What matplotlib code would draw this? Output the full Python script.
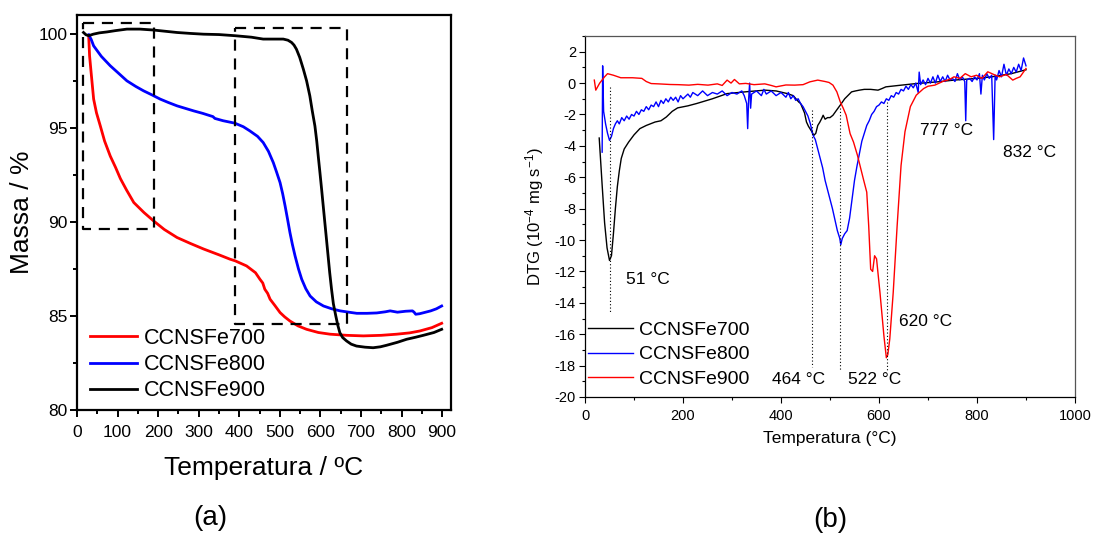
import matplotlib
matplotlib.use("Agg")
import matplotlib.pyplot as plt
from matplotlib.ticker import MultipleLocator

plt.rcParams['font.family'] = ['Liberation Sans', 'DejaVu Sans']
plt.rcParams['mathtext.fontset'] = 'custom'
plt.rcParams['mathtext.rm'] = 'Liberation Sans'
plt.rcParams['mathtext.it'] = 'Liberation Sans:italic'

# ---------------- Panel (a): TGA ----------------
labels_tga = ["CCNSFe700", "CCNSFe800", "CCNSFe900"]
colors_tga = ["#ff0000", "#0000ff", "#000000"]

t700 = [28.8, 31, 35, 41, 48, 57.5, 68, 82, 95, 107, 122, 140, 165, 189, 215, 246.6, 280, 312, 350, 377,
        390, 418, 440, 451, 458, 463, 470, 476, 488, 500.6, 512, 525, 545, 566, 595, 624, 665, 706, 750,
        788, 820, 845, 875, 899]
m700 = [99.9, 98.83, 97.9, 96.53, 95.8, 95.1, 94.3, 93.5, 92.9, 92.3, 91.7, 91.03, 90.5, 90.05, 89.6,
        89.17, 88.85, 88.56, 88.25, 88.02, 87.93, 87.66, 87.3, 86.95, 86.75, 86.42, 86.2, 85.89, 85.55,
        85.18, 84.95, 84.73, 84.47, 84.29, 84.12, 84.03, 83.97, 83.94, 83.97, 84.03, 84.1, 84.2, 84.38,
        84.61]

t800 = [28.8, 35, 41, 60, 82, 100, 123, 145, 164, 185, 205, 225, 246.6, 268, 288, 310, 329, 335, 340,
        360, 389, 410, 426, 445, 459, 472, 484, 492, 500.6, 507, 513, 519, 525, 531, 537.6, 546, 554,
        564, 574.7, 590, 607.6, 628, 648.7, 670, 689.8, 715, 739, 760, 772, 790, 810, 827, 831, 835,
        845, 872, 886, 899]
m800 = [99.95, 99.7, 99.36, 98.8, 98.3, 97.95, 97.5, 97.2, 96.97, 96.75, 96.53, 96.35, 96.17, 96.03,
        95.9, 95.77, 95.64, 95.6, 95.5, 95.38, 95.25, 95.06, 94.84, 94.55, 94.22, 93.75, 93.15, 92.65,
        92.09, 91.5, 90.85, 90.15, 89.43, 88.8, 88.19, 87.5, 86.95, 86.45, 86.06, 85.75, 85.53, 85.38,
        85.27, 85.2, 85.14, 85.14, 85.16, 85.22, 85.27, 85.2, 85.25, 85.27, 85.2, 85.09, 85.12, 85.27,
        85.38, 85.53]

t900 = [16, 22, 28.8, 40, 55, 74, 95, 123, 155, 189, 220, 246.6, 280, 312, 350, 389, 430, 459, 490,
        508.5, 520, 529, 535, 541, 549, 558, 566, 574, 580, 586.5, 591, 594.7, 599, 603, 607, 611, 615,
        619, 623, 627.5, 632, 638, 643, 648, 655, 664.6, 676, 689, 710, 730, 748, 763, 790, 812.6, 835,
        853.7, 880, 899]
m900 = [100.07, 99.95, 99.9, 99.98, 100.05, 100.1, 100.17, 100.25, 100.25, 100.2, 100.13, 100.07, 100.02,
        99.98, 99.96, 99.9, 99.82, 99.72, 99.72, 99.72, 99.66, 99.54, 99.4, 99.18, 98.75, 98.12, 97.5,
        96.7, 95.9, 95.1, 94.3, 93.5, 92.6, 91.74, 90.85, 89.96, 89.08, 88.19, 87.3, 86.42, 85.65, 85.0,
        84.5, 84.11, 83.85, 83.67, 83.5, 83.4, 83.34, 83.31, 83.36, 83.44, 83.6, 83.76, 83.87, 83.97,
        84.12, 84.29]

# dashed highlight boxes (x0, x1, y0, y1)
box1 = [15, 190, 89.6, 100.6]
box2 = [390, 665, 84.56, 100.3]

# ---------------- Panel (b): DTG ----------------
labels_dtg = ["CCNSFe700", "CCNSFe800", "CCNSFe900"]
colors_dtg = ["#000000", "#0000ff", "#ff0000"]

d700_t = [29, 35, 40, 45, 50, 54, 58, 62, 66, 70, 74, 80, 89, 100, 112, 125, 143, 155, 166, 178, 189,
          210, 228, 260, 290, 330, 367, 390, 413, 425, 436, 440, 444, 448, 452, 456, 459, 463, 467, 471,
          475, 479, 483, 486, 490, 495, 500, 506, 514, 521, 530, 544, 552, 560, 570, 583, 598, 606, 614,
          640, 676, 720, 753, 800, 830, 870, 900]
d700_v = [-3.5, -6.5, -8.9, -10.5, -11.3, -11.0, -9.6, -8.0, -6.6, -5.6, -4.8, -4.2, -3.76, -3.3, -2.9,
          -2.7, -2.48, -2.4, -2.16, -1.8, -1.58, -1.45, -1.3, -1.0, -0.67, -0.55, -0.45, -0.5, -0.67,
          -0.8, -1.2, -1.3, -1.6, -1.9, -2.48, -2.75, -2.9, -3.1, -3.33, -3.2, -2.7, -2.5, -2.26, -2.05,
          -2.3, -2.2, -2.2, -2.05, -1.7, -1.4, -1.0, -0.56, -0.5, -0.45, -0.4, -0.4, -0.45, -0.35, -0.24,
          -0.15, -0.03, 0.08, 0.19, 0.3, 0.4, 0.6, 0.85]

d800_t = [35, 36, 38, 42, 46, 50, 54, 58, 62, 66, 70, 75, 80, 85, 90, 95, 100, 105, 110, 115, 120, 125,
          130, 135, 140, 145, 150, 155, 160, 165, 170, 175, 180, 185, 190, 195, 200, 210, 215, 220, 230,
          240, 250, 260, 270, 280, 290, 300, 310, 320, 325, 330, 332, 334, 336, 338, 340, 350, 360, 365,
          370, 380, 390, 400, 410, 415, 420, 425, 430, 435, 440, 445, 450, 455, 460, 465, 470, 475, 480,
          485, 490, 495, 500, 505, 510, 515, 520, 522, 525, 530, 535, 540, 545, 550, 555, 560, 565, 570,
          575, 580, 585, 590, 595, 600, 605, 610, 615, 620, 625, 630, 635, 640, 645, 650, 655, 660, 665,
          670, 675, 680, 682, 685, 690, 695, 700, 705, 710, 715, 720, 725, 730, 735, 740, 745, 750, 755,
          760, 765, 770, 775, 777, 779, 785, 790, 795, 800, 805, 808, 811, 815, 820, 825, 830, 834, 837,
          840, 845, 850, 855, 860, 865, 870, 875, 880, 885, 890, 895, 900]
d800_v = [-4.4, 1.1, -1.8, -2.6, -3.2, -3.65, -3.4, -2.9, -2.6, -2.4, -2.6, -2.2, -2.4, -2.1, -2.3, -2.0,
          -2.1, -1.8, -2.0, -1.7, -1.8, -1.5, -1.7, -1.4, -1.5, -1.2, -1.5, -1.1, -1.3, -1.0, -1.2, -0.9,
          -1.1, -0.9, -1.2, -0.8, -1.0, -0.7, -0.9, -0.6, -0.8, -0.5, -0.8, -0.6, -0.7, -0.5, -0.8, -0.6,
          -0.7, -0.5, -0.8, -1.3, -2.9, -1.0, 0.0, -1.6, -0.7, -0.5, -0.8, -0.4, -0.7, -0.5, -0.8, -0.6,
          -0.9, -0.6, -1.0, -0.8, -1.1, -1.0, -1.3, -1.5, -1.8, -2.1, -2.6, -3.3, -3.6, -4.2, -4.8, -5.4,
          -6.2, -6.8, -7.4, -8.0, -8.7, -9.4, -9.9, -10.3, -9.9, -9.6, -9.4, -8.6, -7.4, -6.2, -5.3, -4.5,
          -3.7, -3.2, -2.7, -2.4, -2.0, -1.8, -1.5, -1.4, -1.2, -1.3, -1.0, -1.1, -0.8, -0.9, -0.6, -0.7,
          -0.4, -0.5, -0.2, -0.4, -0.1, -0.3, 0.0, -0.6, 0.7, -0.1, 0.2, -0.1, 0.3, 0.0, 0.4, 0.0, 0.5,
          0.1, 0.4, 0.1, 0.5, 0.2, 0.3, 0.1, 0.6, 0.2, 0.4, 0.1, -2.4, 0.2, 0.3, 0.1, 0.4, 0.2, 0.6, -0.7,
          0.5, 0.2, 0.6, 0.3, 0.5, -3.6, 0.5, 0.2, 0.8, 0.4, 1.2, 0.5, 0.9, 0.6, 1.0, 0.7, 1.2, 0.8, 1.6,
          1.1]

d900_t = [19, 22, 30, 40, 46, 58, 73, 97, 116, 125, 135, 150, 174, 190, 212, 230, 251, 270, 280, 290,
          298, 305, 315, 328, 345, 367, 380, 390, 410, 428, 445, 459, 475, 490, 498, 506, 514, 521, 527,
          533, 541, 548, 556, 568, 575, 579, 583, 587, 591, 595, 602, 610, 615, 618, 622, 629, 637, 645,
          653, 664, 676, 691, 700, 714, 730, 745, 753, 765, 776, 788, 799, 810, 822, 834, 846, 860, 873,
          880, 888, 900]
d900_v = [0.19, -0.45, 0.0, 0.4, 0.6, 0.5, 0.34, 0.34, 0.3, 0.1, -0.03, -0.05, -0.09, -0.1, -0.13,
          -0.08, -0.13, -0.05, -0.15, 0.19, 0.0, 0.23, -0.05, -0.02, -0.1, -0.05, -0.15, -0.24, -0.12,
          -0.13, -0.1, 0.08, 0.19, 0.1, 0.04, -0.13, -0.56, -1.2, -1.6, -2.05, -3.22, -3.76, -4.6, -6.1,
          -6.95, -9.1, -11.86, -12.0, -11.0, -11.2, -13.35, -16.1, -17.5, -17.3, -16.3, -13.35, -9.1,
          -5.25, -3.1, -1.5, -0.77, -0.35, -0.2, -0.13, 0.1, 0.25, 0.4, 0.3, 0.6, 0.4, 0.5, 0.3, 0.72,
          0.55, 0.4, 0.55, 0.19, 0.3, 0.4, 0.93]

# dotted marker lines (x, y_top, y_bottom)
peak_x = [51, 464, 521, 617]
peak_top = [-0.24, -1.7, -1.6, -1.2]
peak_bot = [-14.6, -18.1, -18.25, -18.25]

ann_text = ["51 °C", "464 °C", "522 °C", "620 °C", "777 °C", "832 °C"]
ann_x = [84, 382, 537, 641, 684, 853]
ann_y = [-12.5, -18.9, -18.9, -15.2, -3.0, -4.4]

# ---------------- Figure ----------------
fig = plt.figure(figsize=(10.94, 5.37), dpi=100)

W, H = 1094, 537
ax1 = fig.add_axes([77 / W, (H - 410) / H, (451 - 77) / W, (410 - 15) / H])
ax2 = fig.add_axes([585 / W, (H - 397) / H, (1075 - 585) / W, (397 - 36) / H])

# panel a
for t, m, c, lab in zip([t700, t800, t900], [m700, m800, m900], colors_tga, labels_tga):
    ax1.plot(t, m, color=c, lw=2.0, label=lab)

for b in [box1, box2]:
    x0, x1, y0, y1 = b
    ax1.plot([x0, x1, x1, x0, x0], [y1, y1, y0, y0, y1], color="black", lw=1.6,
             linestyle=(0, (5, 3.5)))

ax1.set_xlim(0, 922)
ax1.set_ylim(80, 101)
ax1.xaxis.set_major_locator(MultipleLocator(100))
ax1.xaxis.set_minor_locator(MultipleLocator(50))
ax1.yaxis.set_major_locator(MultipleLocator(5))
ax1.yaxis.set_minor_locator(MultipleLocator(2.5))
ax1.tick_params(which="both", direction="out", top=False, right=False, width=1.4, labelsize=12.5,
                colors="black")
ax1.tick_params(axis="x", which="major", length=5, pad=6)
ax1.tick_params(axis="y", which="major", length=5, pad=2)
ax1.tick_params(which="minor", length=3)
for s in ax1.spines.values():
    s.set_linewidth(1.6)
ax1.set_xlabel("Temperatura / ºC", fontsize=19, labelpad=11)
ax1.set_ylabel("Massa / %", fontsize=19, labelpad=3)
ax1.legend(loc="lower left", bbox_to_anchor=(0.035, 0.022), frameon=False, fontsize=15.5,
           handlelength=2.2, handletextpad=0.3, labelspacing=0.24, borderpad=0, borderaxespad=0)

# panel b
for t, v, c, lab in zip([d700_t, d800_t, d900_t], [d700_v, d800_v, d900_v], colors_dtg, labels_dtg):
    ax2.plot(t, v, color=c, lw=1.0, label=lab)

for x, yt, yb in zip(peak_x, peak_top, peak_bot):
    ax2.plot([x, x], [yt, yb], color="black", lw=0.8, linestyle=(0, (1, 2)))

for s, x, y in zip(ann_text, ann_x, ann_y):
    ax2.text(x, y, s, fontsize=12.5, ha="left", va="center")

ax2.set_xlim(0, 1000)
ax2.set_ylim(-20, 3)
ax2.xaxis.set_major_locator(MultipleLocator(200))
ax2.xaxis.set_minor_locator(MultipleLocator(100))
ax2.yaxis.set_minor_locator(MultipleLocator(1))
ax2.set_yticks(range(-20, 3, 2))
ax2.set_yticklabels([str(v) for v in range(-20, 3, 2)])
ax2.tick_params(which="both", direction="out", top=False, right=False, width=0.8, labelsize=10.5)
ax2.tick_params(axis="x", which="major", length=4.5, pad=4)
ax2.tick_params(axis="y", which="major", length=4.5, pad=2)
ax2.tick_params(which="minor", length=2.5)
for side in ["left", "bottom"]:
    ax2.spines[side].set_linewidth(0.9)
for side in ["top", "right"]:
    ax2.spines[side].set_linewidth(0.9)
    ax2.spines[side].set_color("#555555")
ax2.set_xlabel("Temperatura (°C)", fontsize=12.5, labelpad=6)
ax2.set_ylabel("DTG (10$^{-4}$ mg s$^{-1}$)", fontsize=12, labelpad=6)
ax2.legend(loc="lower left", bbox_to_anchor=(0.006, 0.025), frameon=False, fontsize=14,
           handlelength=2.3, handletextpad=0.35, labelspacing=0.36, borderpad=0, borderaxespad=0)

fig.text(210 / W, 1 - 518 / H, "(a)", fontsize=20, ha="center", va="center")
fig.text(830 / W, 1 - 520 / H, "(b)", fontsize=20, ha="center", va="center")

fig.savefig("out.png", dpi=100)
